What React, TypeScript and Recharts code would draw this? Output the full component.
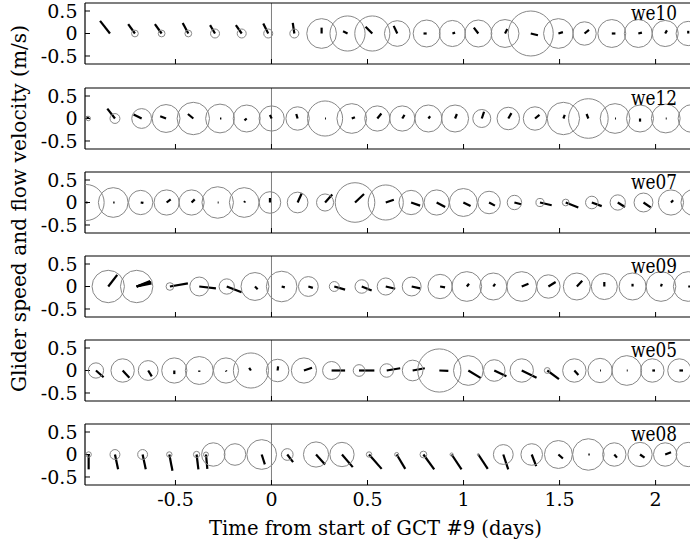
import React from "react";
import { ScatterChart, Scatter, XAxis, YAxis, ZAxis, ReferenceLine } from "recharts";

// each row: [time (days), glider speed (m/s), flow u (m/s), flow v (m/s)]
type Row = [number, number, number, number];

const we10: Row[] = [
  [-0.841, 0, -0.22, 0.28],
  [-0.711, 0.075, -0.15, 0.21],
  [-0.572, 0.075, -0.15, 0.21],
  [-0.433, 0.075, -0.125, 0.235],
  [-0.294, 0.1, -0.11, 0.185],
  [-0.155, 0.1, -0.13, 0.185],
  [-0.017, 0.1, -0.11, 0.22],
  [0.119, 0.1, -0.035, 0.235],
  [0.261, 0.33, 0, 0.13],
  [0.396, 0.39, -0.1, 0.05],
  [0.525, 0.39, -0.15, 0.15],
  [0.655, 0.285, -0.08, 0.17],
  [0.808, 0.3, -0.07, 0],
  [0.942, 0.29, 0.06, 0.02],
  [1.077, 0.3, -0.1, 0.13],
  [1.216, 0.31, 0.05, 0.1],
  [1.35, 0.5, 0.16, -0.04],
  [1.494, 0.33, 0.1, 0.03],
  [1.63, 0.26, 0.1, 0.08],
  [1.772, 0.31, 0.08, 0],
  [1.91, 0.31, 0.08, 0.02],
  [2.05, 0.29, 0.04, 0.07],
  [2.17, 0.27, 0, 0.06],
];

const we12: Row[] = [
  [-0.954, 0.05, -0.03, 0.05],
  [-0.815, 0.11, -0.17, 0.22],
  [-0.676, 0.22, -0.18, 0.09],
  [-0.549, 0.31, -0.13, 0.05],
  [-0.407, 0.36, -0.12, 0.1],
  [-0.268, 0.32, 0.03, 0],
  [-0.129, 0.3, -0.05, -0.04],
  [0.001, 0.28, -0.04, 0.08],
  [0.136, 0.26, -0.03, 0.1],
  [0.279, 0.39, 0.02, 0],
  [0.418, 0.33, 0.07, 0.03],
  [0.551, 0.28, 0.09, 0.11],
  [0.681, 0.28, 0.05, 0.08],
  [0.817, 0.3, 0.04, 0.05],
  [0.956, 0.3, 0.04, 0.1],
  [1.095, 0.2, 0.05, 0.15],
  [1.233, 0.25, 0.07, 0.12],
  [1.372, 0.26, 0.1, 0.08],
  [1.52, 0.36, 0.03, 0.08],
  [1.65, 0.44, -0.04, 0.1],
  [1.789, 0.33, 0.02, 0],
  [1.919, 0.3, 0, -0.07],
  [2.053, 0.32, 0.02, 0],
  [2.19, 0.31, 0, 0],
];

const we07: Row[] = [
  [-0.965, 0.4, 0.03, 0],
  [-0.824, 0.33, 0.03, 0],
  [-0.681, 0.27, 0.06, -0.01],
  [-0.546, 0.28, 0.09, 0.07],
  [-0.416, 0.28, 0.07, 0.07],
  [-0.28, 0.35, 0.02, 0],
  [-0.142, 0.33, 0.02, 0.03],
  [-0.008, 0.24, 0, 0.1],
  [0.136, 0.23, 0.09, 0.2],
  [0.279, 0.19, 0.16, 0.18],
  [0.435, 0.44, 0.2, 0.19],
  [0.595, 0.39, 0.18, 0.06],
  [0.727, 0.27, 0.2, -0.07],
  [0.86, 0.28, 0.19, -0.1],
  [0.999, 0.31, 0.16, -0.08],
  [1.133, 0.25, 0.13, -0.07],
  [1.265, 0.16, 0.15, -0.04],
  [1.398, 0.09, 0.26, -0.06],
  [1.532, 0.075, 0.28, -0.11],
  [1.668, 0.14, 0.22, -0.08],
  [1.803, 0.17, 0.16, -0.1],
  [1.937, 0.21, 0.16, -0.11],
  [2.08, 0.28, 0.05, 0.05],
  [2.2, 0.29, 0, 0],
];

const we09: Row[] = [
  [-0.85, 0.36, 0.2, 0.26],
  [-0.702, 0.36, 0.33, 0.07],
  [-0.702, 0, 0.32, 0.1],
  [-0.702, 0, 0.3, 0.12],
  [-0.702, 0, 0.28, 0.09],
  [-0.529, 0.085, 0.4, 0.07],
  [-0.376, 0.21, 0.37, -0.04],
  [-0.233, 0.17, 0.33, -0.13],
  [-0.086, 0.31, 0.06, -0.06],
  [0.053, 0.34, 0.07, -0.02],
  [0.192, 0.22, 0.1, -0.03],
  [0.327, 0.11, 0.24, -0.07],
  [0.47, 0.15, 0.22, -0.09],
  [0.595, 0.19, 0.21, -0.05],
  [0.73, 0.21, 0.19, -0.04],
  [0.878, 0.27, 0.11, -0.02],
  [1.017, 0.33, 0.05, 0.06],
  [1.155, 0.3, 0.04, 0.06],
  [1.303, 0.33, 0.15, 0.06],
  [1.442, 0.26, 0.16, 0.1],
  [1.59, 0.3, 0.12, 0.13],
  [1.733, 0.29, 0, 0.1],
  [1.88, 0.3, 0, 0.06],
  [2.028, 0.33, 0.02, 0.06],
  [2.17, 0.33, 0.04, 0],
];

const we05: Row[] = [
  [-0.914, 0.17, 0.17, -0.15],
  [-0.775, 0.26, 0.15, -0.16],
  [-0.642, 0.22, 0.08, -0.13],
  [-0.506, 0.28, 0, -0.08],
  [-0.376, 0.31, 0, -0.03],
  [-0.237, 0.28, 0.01, -0.02],
  [-0.107, 0.39, -0.04, 0.06],
  [0.032, 0.25, 0.01, 0.09],
  [0.169, 0.28, 0.18, 0.06],
  [0.313, 0.2, 0.3, 0],
  [0.456, 0.13, 0.34, 0],
  [0.6, 0.15, 0.3, 0.05],
  [0.735, 0.23, 0.27, 0.05],
  [0.874, 0.48, 0.2, -0.01],
  [1.025, 0.33, 0.28, -0.17],
  [1.16, 0.24, 0.27, -0.13],
  [1.303, 0.26, 0.33, -0.16],
  [1.436, 0.065, 0.26, -0.19],
  [1.577, 0.26, 0.09, -0.1],
  [1.711, 0.27, 0.02, 0],
  [1.85, 0.33, 0.02, 0],
  [1.983, 0.26, 0.06, 0],
  [2.124, 0.26, 0.08, 0],
];

const we08: Row[] = [
  [-0.952, 0.06, 0, -0.33],
  [-0.815, 0.11, 0.07, -0.33],
  [-0.671, 0.11, 0.07, -0.33],
  [-0.532, 0.06, 0.07, -0.36],
  [-0.39, 0.07, 0.04, -0.33],
  [-0.341, 0.055, 0.03, -0.32],
  [-0.303, 0.26, 0, 0],
  [-0.19, 0.24, 0, 0],
  [-0.051, 0.33, 0.07, -0.22],
  [0.082, 0.13, 0.13, -0.17],
  [0.232, 0.28, 0.2, -0.22],
  [0.367, 0.27, 0.24, -0.28],
  [0.508, 0.06, 0.28, -0.32],
  [0.652, 0.045, 0.19, -0.32],
  [0.791, 0.075, 0.24, -0.33],
  [0.938, 0.035, 0.22, -0.33],
  [1.077, 0.02, 0.21, -0.32],
  [1.207, 0.22, 0.11, -0.33],
  [1.355, 0.24, 0.1, -0.26],
  [1.494, 0.31, 0.1, -0.09],
  [1.65, 0.35, 0.03, 0],
  [1.785, 0.26, 0.06, -0.07],
  [1.919, 0.27, 0.1, -0.07],
  [2.05, 0.26, 0.13, 0.05],
  [2.17, 0.27, 0, 0],
];

const gliderNames = ["we10", "we12", "we07", "we09", "we05", "we08"];
const gliderRows = [we10, we12, we07, we09, we05, we08];

const xTicks = [-0.5, 0, 0.5, 1, 1.5, 2];
const yTicks = [-0.5, 0, 0.5];
const xDomain: [number, number] = [-0.971, 2.2];
const Y_MAX = 0.678;

const FONT = "'DejaVu Serif', 'Liberation Serif', 'Noto Serif', Georgia, serif";
const TICK_SIZE = 19;
const CHART_W = 700;
const PLOT_LEFT = 85;
const RIGHT_MARGIN = 6;
const PLOT_H = 61;
const PANEL_TOPS = [3, 88, 172, 256, 340, 424];

// flow sticks are drawn with equal aspect on screen
const PX_PER_X = (CHART_W - PLOT_LEFT - RIGHT_MARGIN) / (xDomain[1] - xDomain[0]);
const PX_PER_Y = PLOT_H / (2 * Y_MAX);
const U_TO_DAYS = PX_PER_Y / PX_PER_X;

const Ring = (p: any) => {
  const r = p.width != null ? p.width / 2 : Math.sqrt((p.size || 0) / Math.PI);
  if (!r || r <= 0) return <g />;
  return <circle cx={p.cx} cy={p.cy} r={r} fill="none" stroke="#878787" strokeWidth={1} />;
};

const tickStyle = { fontSize: TICK_SIZE, fill: "#000", fontFamily: FONT };

function Panel({ rows, top, last }: { rows: Row[]; top: number; last: boolean }) {
  const circles = rows
    .filter((r) => r[1] > 0)
    .map(([t, speed]) => ({ t, y: 0, z: speed * speed }));
  const bottomH = last ? 40 : 1;
  const height = 5 + PLOT_H + bottomH + 4;
  const axisLine = { stroke: "#000", strokeWidth: 1.2 };
  return (
    <div style={{ position: "absolute", left: 0, top: top - 5 }}>
      <ScatterChart
        width={CHART_W}
        height={height}
        margin={{ top: 4, right: RIGHT_MARGIN, bottom: 4, left: 0 }}
      >
        <XAxis
          xAxisId="top"
          orientation="top"
          type="number"
          domain={xDomain}
          allowDataOverflow
          ticks={xTicks}
          interval={0}
          height={1}
          tickSize={-5}
          tickFormatter={() => ""}
          axisLine={axisLine}
          tickLine={{ stroke: "#000" }}
        />
        <XAxis
          xAxisId="b"
          dataKey="t"
          type="number"
          domain={xDomain}
          allowDataOverflow
          ticks={xTicks}
          interval={0}
          height={bottomH}
          tickSize={-5}
          tickMargin={13}
          tickFormatter={(v: number) => (last ? String(v) : "")}
          tick={tickStyle}
          axisLine={axisLine}
          tickLine={{ stroke: "#000" }}
        />
        <YAxis
          dataKey="y"
          type="number"
          domain={[-Y_MAX, Y_MAX]}
          allowDataOverflow
          ticks={yTicks}
          interval={0}
          width={PLOT_LEFT}
          tickSize={-5}
          tickMargin={12.5}
          tick={tickStyle}
          axisLine={axisLine}
          tickLine={{ stroke: "#000" }}
        />
        <ZAxis
          dataKey="z"
          type="number"
          domain={[0, 1]}
          range={[0, Math.PI * PX_PER_Y * PX_PER_Y]}
        />
        <ReferenceLine xAxisId="b" x={0} stroke="#7f7f7f" strokeWidth={1} />
        <Scatter
          xAxisId="b"
          data={circles}
          shape={Ring}
          isAnimationActive={false}
        />
        {rows
          .filter(([, , u, v]) => u !== 0 || v !== 0)
          .map(([t, , u, v], i) => (
            <ReferenceLine
              key={i}
              xAxisId="b"
              ifOverflow="visible"
              segment={[
                { x: t, y: 0 },
                { x: t + u * U_TO_DAYS, y: v },
              ]}
              stroke="#000"
              strokeWidth={2.2}
            />
          ))}
      </ScatterChart>
    </div>
  );
}

export default function App() {
  return (
    <div
      style={{
        position: "absolute",
        left: 0,
        top: 0,
        width: 690,
        height: 548,
        overflow: "hidden",
        background: "#fff",
      }}
    >
      {gliderRows.map((rows, i) => (
        <Panel key={gliderNames[i]} rows={rows} top={PANEL_TOPS[i]} last={i === gliderRows.length - 1} />
      ))}
      <svg
        width={690}
        height={548}
        style={{ position: "absolute", left: 0, top: 0, pointerEvents: "none" }}
      >
        {gliderNames.map((name, i) => (
          <text
            key={name}
            x={677}
            y={PANEL_TOPS[i] + 17}
            textAnchor="end"
            fontSize={20}
            fontFamily={FONT}
            textLength={46}
            lengthAdjust="spacingAndGlyphs"
            fill="#000"
          >
            {name}
          </text>
        ))}
        <text
          x={375.5}
          y={535}
          textAnchor="middle"
          fontSize={21}
          fontFamily={FONT}
          textLength={333}
          lengthAdjust="spacingAndGlyphs"
          fill="#000"
        >
          Time from start of GCT #9 (days)
        </text>
        <text
          transform="translate(25.5,208.5) rotate(-90)"
          textAnchor="middle"
          fontSize={21}
          fontFamily={FONT}
          textLength={367}
          lengthAdjust="spacingAndGlyphs"
          fill="#000"
        >
          Glider speed and flow velocity (m/s)
        </text>
      </svg>
    </div>
  );
}
